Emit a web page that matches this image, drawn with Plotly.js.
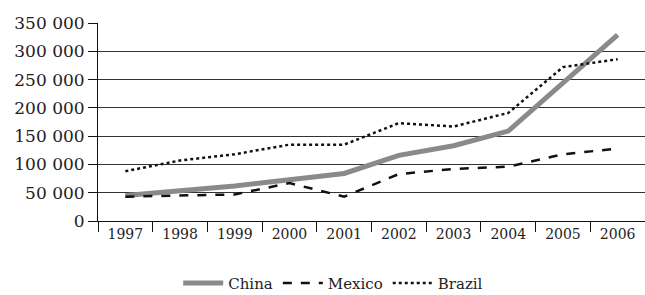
<!DOCTYPE html>
<html>
<head>
<meta charset="utf-8">
<script src="https://cdn.plot.ly/plotly-3.0.1.min.js"></script>
<style>
html,body{margin:0;padding:0;background:#fff;}
#chart{width:645px;height:295px;}
</style>
</head>
<body>
<div id="chart"></div>
<script>
const years = ["1997","1998","1999","2000","2001","2002","2003","2004","2005","2006"];
const china  = [45000, 53000, 62000, 73000, 84000, 116000, 133000, 159000, 245000, 329000];
const mexico = [43000, 45000, 47000, 67000, 43000, 83000, 92000, 96000, 118000, 128000];
const brazil = [88000, 107000, 118000, 135000, 135000, 173000, 167000, 191000, 272000, 286000];
const yTickVals = [0, 50000, 100000, 150000, 200000, 250000, 300000, 350000];
const yTickText = ["0", "50 000", "100 000", "150 000", "200 000", "250 000", "300 000", "350 000"];

const FAM = "DejaVu Serif";

const traces = [
  {x: years, y: china, name: "China", type: "scatter", mode: "lines",
   line: {color: "#8a8a8a", width: 5}},
  {x: years, y: mexico, name: "Mexico", type: "scatter", mode: "lines",
   line: {color: "#111", width: 2.5, dash: "dash"}},
  {x: years, y: brazil, name: "Brazil", type: "scatter", mode: "lines",
   line: {color: "#111", width: 2.5, dash: "dot"}}
];

const layout = {
  width: 645, height: 295,
  margin: {l: 98, r: 0, t: 23, b: 74, pad: 0, autoexpand: false},
  paper_bgcolor: "#fff", plot_bgcolor: "#fff",
  font: {family: FAM, size: 15, color: "#222"},
  showlegend: true,
  legend: {orientation: "h", x: 0.43, xanchor: "center", yref: "container", y: 0.04, yanchor: "middle",
           font: {family: FAM, size: 15, color: "#222"}, itemwidth: 40,
           tracegroupgap: 0, bgcolor: "rgba(0,0,0,0)"},
  xaxis: {type: "category", range: [-0.5, 9.5], tickson: "boundaries",
          ticks: "outside", ticklen: 10, tickcolor: "#111", tickwidth: 1,
          showline: true, linecolor: "#111", linewidth: 1,
          showgrid: false, zeroline: false, fixedrange: true,
          tickfont: {family: FAM, size: 14, color: "#222"}},
  yaxis: {range: [0, 350000], tickvals: yTickVals, ticktext: yTickText,
          ticks: "outside", ticklen: 9, tickcolor: "#111", tickwidth: 1,
          showline: true, linecolor: "#111", linewidth: 1,
          showgrid: true, gridcolor: "#333", gridwidth: 1,
          zeroline: false, fixedrange: true,
          tickfont: {family: FAM, size: 17, color: "#222"}}
};

Plotly.newPlot("chart", traces, layout, {displayModeBar: false, staticPlot: true});
</script>
</body>
</html>
